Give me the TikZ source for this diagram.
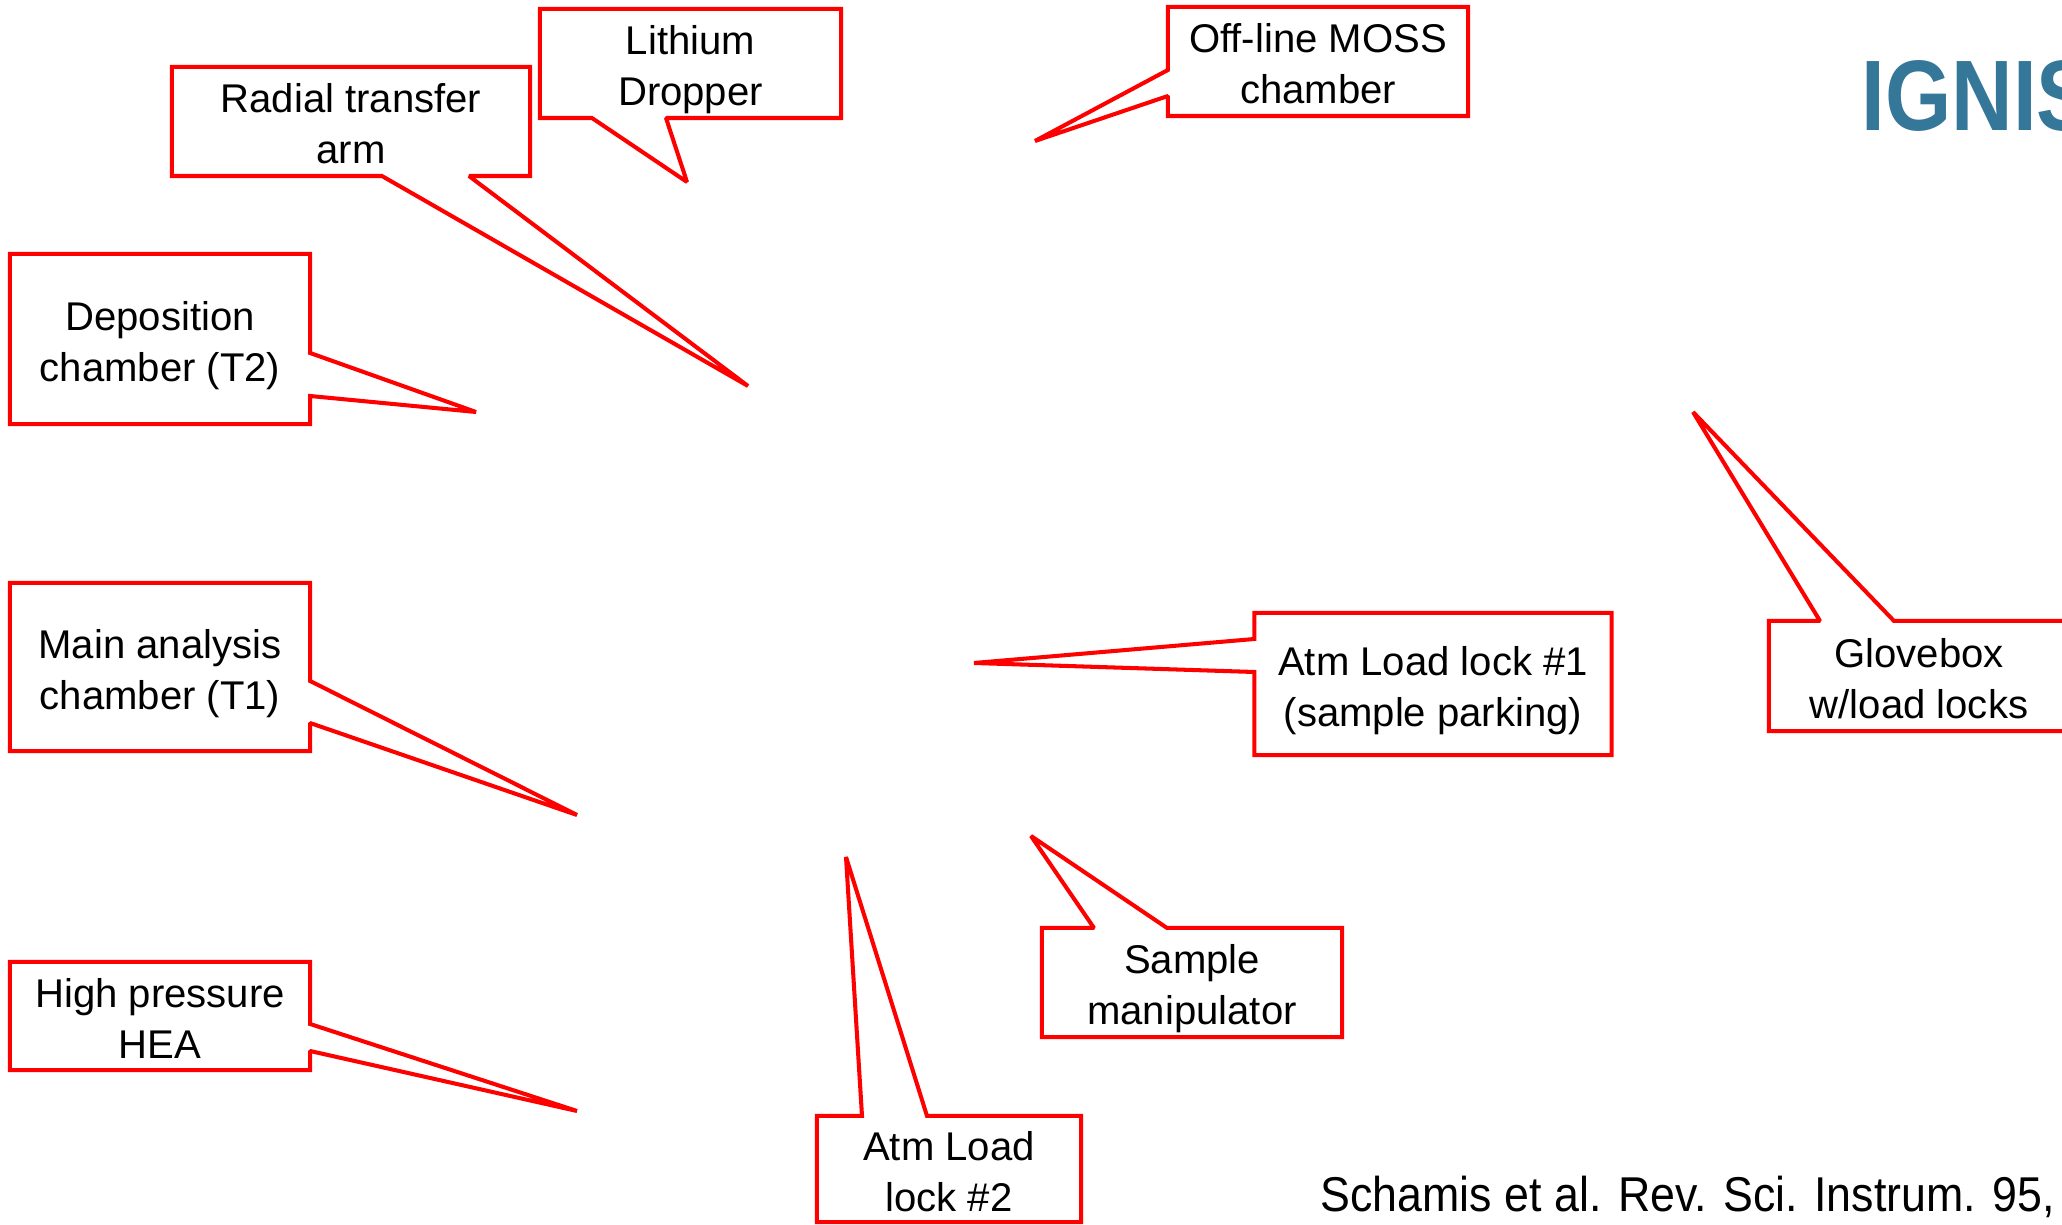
\documentclass[tikz,border=0pt]{standalone}
\usepackage{fontspec}
\setmainfont{Liberation Sans}
\definecolor{ignisblue}{RGB}{53,119,152}

\tikzset{
  box/.style={inner sep=0pt, outer sep=0pt, align=center, text height=23.9pt, text depth=0pt,
    font=\fontsize{11.4}{14.5}\selectfont},
  callout/.style={draw=red, line width=1.15pt, line join=miter, miter limit=1.5},
}

\begin{document}
\begin{tikzpicture}[x=0.01cm,y=-0.01cm]
  \useasboundingbox (0,0) rectangle (2062,1225);
  \clip (0,0) rectangle (2062,1225);

  \node[box, minimum width=3.01cm, minimum height=1.09cm] (lith) at (690.5,63.5) {Lithium\\Dropper};
  \node[box, minimum width=3.58cm, minimum height=1.09cm] (rad) at (351,121.5) {Radial transfer\\arm};
  \node[box, minimum width=3cm, minimum height=1.09cm] (moss) at (1318,61.5) {Off-line MOSS\\chamber};
  \node[box, minimum width=3cm, minimum height=1.70cm] (dep) at (160,339) {Deposition\\chamber (T2)};
  \node[box, minimum width=3cm, minimum height=1.68cm] (mainch) at (160,667) {Main analysis\\chamber (T1)};
  \node[box, minimum width=3cm, minimum height=1.08cm] (hea) at (160,1016) {High pressure\\HEA};
  \node[box, minimum width=2.64cm, minimum height=1.06cm] (atmtwo) at (949,1169) {Atm Load\\lock \#2};
  \node[box, minimum width=3cm, minimum height=1.09cm] (samp) at (1192,982.5) {Sample\\manipulator};
  \node[box, minimum width=3.57cm, minimum height=1.42cm] (atmone) at (1433,684) {Atm Load lock \#1\\(sample parking)};
  \node[box, minimum width=3cm, minimum height=1.10cm] (glove) at (1919,676) {Glovebox\\w/load locks};

  \coordinate (lithTip) at (687,182);
  \coordinate (radTip) at (748,386);
  \coordinate (mossTip) at (1035,141);
  \coordinate (depTip) at (476,412);
  \coordinate (mainTip) at (577,815);
  \coordinate (heaTip) at (577,1111);
  \coordinate (atmtwoTip) at (846,857);
  \coordinate (sampTip) at (1031,836);
  \coordinate (atmoneTip) at (974,663);
  \coordinate (gloveTip) at (1693,412);

  \draw[callout] (lith.north west) -- (lith.north east) -- (lith.south east) -- (lith.south -| 666,0)
    -- (lithTip) -- (lith.south -| 592,0) -- (lith.south west) -- cycle;
  \draw[callout] (rad.north west) -- (rad.north east) -- (rad.south east) -- (rad.south -| 469,0)
    -- (radTip) -- (rad.south -| 382,0) -- (rad.south west) -- cycle;
  \draw[callout] (moss.north west) -- (moss.north east) -- (moss.south east) -- (moss.south west)
    -- (moss.west |- 0,96) -- (mossTip) -- (moss.west |- 0,70) -- cycle;
  \draw[callout] (dep.north west) -- (dep.north east) -- (dep.east |- 0,353) -- (depTip)
    -- (dep.east |- 0,396) -- (dep.south east) -- (dep.south west) -- cycle;
  \draw[callout] (mainch.north west) -- (mainch.north east) -- (mainch.east |- 0,681) -- (mainTip)
    -- (mainch.east |- 0,723) -- (mainch.south east) -- (mainch.south west) -- cycle;
  \draw[callout] (hea.north west) -- (hea.north east) -- (hea.east |- 0,1024) -- (heaTip)
    -- (hea.east |- 0,1051) -- (hea.south east) -- (hea.south west) -- cycle;
  \draw[callout] (atmtwo.north west) -- (atmtwo.north -| 862,0) -- (atmtwoTip) -- (atmtwo.north -| 927,0)
    -- (atmtwo.north east) -- (atmtwo.south east) -- (atmtwo.south west) -- cycle;
  \draw[callout] (samp.north west) -- (samp.north -| 1094,0) -- (sampTip) -- (samp.north -| 1167,0)
    -- (samp.north east) -- (samp.south east) -- (samp.south west) -- cycle;
  \draw[callout] (atmone.north west) -- (atmone.north east) -- (atmone.south east) -- (atmone.south west)
    -- (atmone.west |- 0,672) -- (atmoneTip) -- (atmone.west |- 0,639) -- cycle;
  \draw[callout] (glove.north west) -- (glove.north -| 1820,0) -- (gloveTip) -- (glove.north -| 1894,0)
    -- (glove.north east) -- (glove.south east) -- (glove.south west) -- cycle;

  \node[anchor=base west, inner sep=0pt, text=ignisblue, font=\fontsize{28.5}{30}\bfseries\selectfont] (title) at (1861,131) {\scalebox{0.85}[1]{IGNIS}};
  \node[anchor=base west, inner sep=0pt, font=\fontsize{13.9}{16}\selectfont] (cite) at (1320,1212) {\scalebox{0.915}[1]{Schamis et al. Rev. Sci. Instrum. 95, 0}};
\end{tikzpicture}
\end{document}
